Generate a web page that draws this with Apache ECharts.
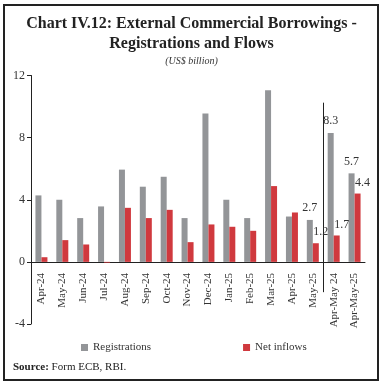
<!DOCTYPE html>
<html><head><meta charset="utf-8">
<script src="https://cdn.jsdelivr.net/npm/echarts@6/dist/echarts.min.js"></script>
<style>html,body{margin:0;padding:0;background:#fff}#c{width:383px;height:385px}</style>
</head><body><div id="c"></div>
<script>
const categories = ['Apr-24','May-24','Jun-24','Jul-24','Aug-24','Sep-24','Oct-24','Nov-24','Dec-24','Jan-25','Feb-25','Mar-25','Apr-25','May-25','Apr-May 24','Apr-May-25'];
const registrations = [4.28,4.0,2.82,3.57,5.94,4.84,5.48,2.82,9.55,4.0,2.82,11.05,2.92,2.7,8.3,5.7];
const netInflows = [0.3,1.4,1.12,-0.05,3.48,2.82,3.35,1.27,2.41,2.26,2.0,4.88,3.18,1.2,1.7,4.4];
const labelledFrom = 13;
const yTicks = [-4, 0, 4, 8, 12];
const separatorRange = [10.25, -1.95];

const FONT = 'Liberation Serif';
const GRAY = '#939598';
const RED = '#d0393e';

function items(vals, isRed) {
  return vals.map((v, i) => {
    if (i < labelledFrom) return v;
    return {
      value: v,
      label: {
        show: true, position: 'top', distance: isRed ? 5 : 6,
        offset: isRed ? [5, 0] : [0, 0],
        formatter: (p) => p.value.toFixed(1),
        fontFamily: FONT, fontSize: 12, color: '#333'
      }
    };
  });
}

const chart = echarts.init(document.getElementById('c'), null, {renderer: 'canvas'});
chart.setOption({
  animation: false,
  title: [
    {text: 'Chart IV.12: External Commercial Borrowings -\nRegistrations and Flows', left: 'center', top: 9,
     textStyle: {fontFamily: FONT, fontWeight: 'bold', fontSize: 16, lineHeight: 20, color: '#222'}},
    {text: '(US$ billion)', left: 'center', top: 51,
     textStyle: {fontFamily: FONT, fontStyle: 'italic', fontWeight: 'normal', fontSize: 10, color: '#333'}}
  ],
  grid: {left: 31, right: 18, top: 75.5, bottom: 61, containLabel: false, outerBoundsMode: 'none'},
  legend: {
    left: 76, top: 337, itemWidth: 7, itemHeight: 7, itemGap: 92,
    icon: 'rect',
    textStyle: {fontFamily: FONT, fontSize: 11, color: '#333'},
    data: ['Registrations', 'Net inflows']
  },
  xAxis: {
    type: 'category', data: categories,
    axisLine: {onZero: false, lineStyle: {color: '#222', width: 1}},
    axisTick: {show: false},
    axisLabel: {rotate: 90, interval: 0, margin: 11, fontFamily: FONT, fontSize: 11, color: '#333'}
  },
  yAxis: {
    type: 'value', min: yTicks[0], max: yTicks[yTicks.length-1], interval: 4,
    splitLine: {show: false},
    axisLine: {show: true, lineStyle: {color: '#222', width: 1}},
    axisTick: {show: true, length: 4, lineStyle: {color: '#222'}},
    axisLabel: {margin: 6, fontFamily: FONT, fontSize: 12, color: '#333'}
  },
  series: [
    {name: 'Registrations', type: 'bar', data: items(registrations, false), barWidth: 6, barGap: '0%',
     itemStyle: {color: GRAY}},
    {name: 'Net inflows', type: 'bar', data: items(netInflows, true), barWidth: 6, barGap: '0%',
     itemStyle: {color: RED}}
  ]
});

const zeroPx = chart.convertToPixel({gridIndex: 0}, [0, 0]);
const minPx = chart.convertToPixel({gridIndex: 0}, [0, yTicks[0]]);
const a = chart.convertToPixel({gridIndex: 0}, [labelledFrom, separatorRange[0]]);
const b = chart.convertToPixel({gridIndex: 0}, [labelledFrom + 1, separatorRange[1]]);
const sx = Math.round((a[0] + b[0]) / 2) + 0.5;

chart.setOption({
  xAxis: {offset: zeroPx[1] - minPx[1]},
  graphic: [
    {type: 'rect', shape: {x: 4, y: 5, width: 374, height: 375}, style: {fill: 'none', stroke: '#222', lineWidth: 2}, silent: true},
    {type: 'line', shape: {x1: sx, y1: a[1], x2: sx, y2: b[1]}, style: {stroke: '#222', lineWidth: 1}, silent: true},
    {type: 'text', left: 13, top: 362, style: {
      text: '{b|Source:} Form ECB, RBI.',
      rich: {b: {fontFamily: FONT, fontWeight: 'bold', fontSize: 11, fill: '#222'}},
      font: '11px "Liberation Serif"', fill: '#222'}}
  ]
});
</script>
</body></html>
